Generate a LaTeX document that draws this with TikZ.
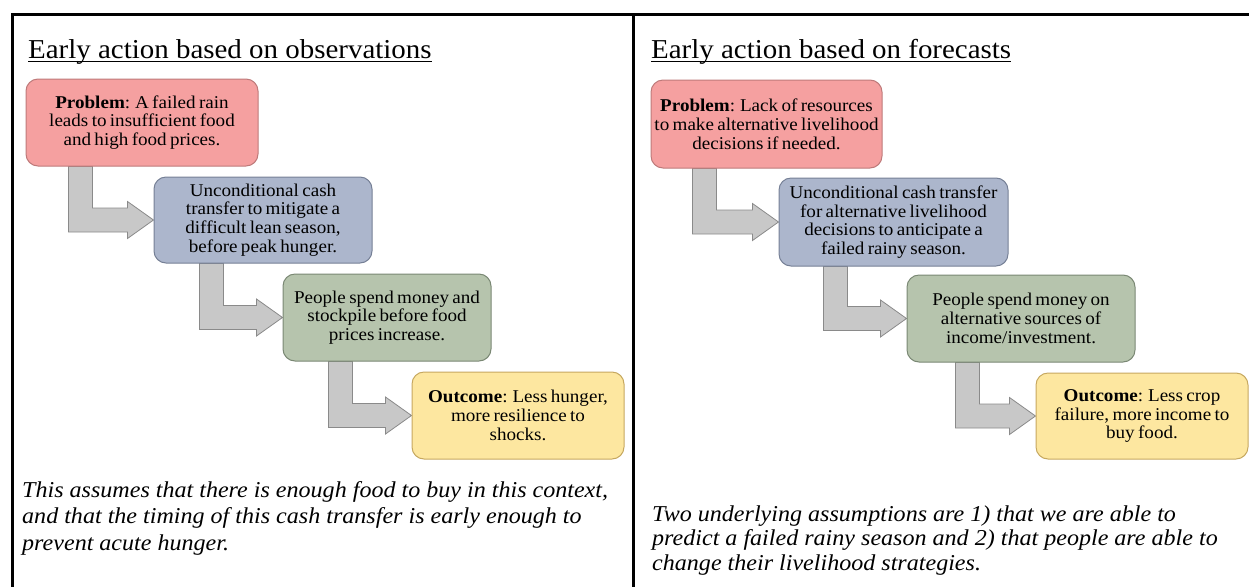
\documentclass[tikz,border=0pt]{standalone}
\usepackage{fontspec}
\setmainfont{Liberation Serif}[FakeStretch=1.06]
\newfontfamily\boxfont{Liberation Serif}[FakeStretch=1.06, WordSpace=0.7]
\usetikzlibrary{calc}
\pgfdeclarelayer{bg}
\pgfsetlayers{bg,main}

\definecolor{probfill}{RGB}{245,160,160}
\definecolor{probline}{RGB}{190,122,122}
\definecolor{actfill}{RGB}{172,182,204}
\definecolor{actline}{RGB}{118,128,150}
\definecolor{spendfill}{RGB}{182,196,173}
\definecolor{spendline}{RGB}{122,136,116}
\definecolor{resfill}{RGB}{253,231,160}
\definecolor{resline}{RGB}{198,168,96}
\definecolor{arrfill}{RGB}{200,200,200}
\definecolor{arrline}{RGB}{138,138,138}

\tikzset{
  stepbox/.style={draw, line width=1pt, rounded corners=12pt, inner sep=0pt,
    align=center, text=black, font=\boxfont\fontsize{18}{18.8}\selectfont},
  problem/.style={stepbox, fill=probfill, draw=probline},
  action/.style={stepbox, fill=actfill, draw=actline},
  spend/.style={stepbox, fill=spendfill, draw=spendline},
  result/.style={stepbox, fill=resfill, draw=resline},
  bentarrow/.style={fill=arrfill, draw=arrline, line width=0.8pt, line join=miter},
  heading/.style={anchor=base west, inner sep=0pt, font=\fontsize{27.3}{32}\selectfont},
  noteline/.style={anchor=base west, inner sep=0pt, font=\fontsize{22.7}{26}\selectfont\itshape},
  frame/.style={line width=3pt, black},
}

% bent block arrow: down from the source box, then right into the target box
% #1 source node, #2 target node, #3 offset of the stem from the source's left edge
\newcommand\bentlink[3]{%
  \draw[bentarrow] let \p1=([xshift=#3]#1.south west), \p2=(#2.west) in
    (\x1,\y1) -- (\x1,\y2-12pt) -- (\x2-26pt,\y2-12pt) -- (\x2-26pt,\y2-18.5pt)
    -- (\x2,\y2) -- (\x2-26pt,\y2+18.5pt) -- (\x2-26pt,\y2+12pt)
    -- (\x1+24pt,\y2+12pt) -- (\x1+24pt,\y1) -- cycle;}

\begin{document}
\begin{tikzpicture}[x=1pt, y=-1pt]
  \useasboundingbox (0,0) rectangle (1249,587);

  % outer frame and column divider
  \draw[frame] (11,14.5) -- (1249,14.5);
  \draw[frame] (12.5,13) -- (12.5,587);
  \draw[frame] (633.5,13) -- (633.5,587);

  % ---------- left column ----------
  \node[heading] (lhead) at (28,58) {Early action based on observations};
  \draw[line width=1.3pt] ([yshift=-3.8pt]lhead.base west) -- ([yshift=-3.8pt]lhead.base east);

  \node[problem, minimum width=232pt, minimum height=87pt] (lp) at (142,122.5)
    {\textbf{Problem}: A failed rain\\leads to insufficient food\\and high food prices.};
  \node[action, minimum width=218pt, minimum height=86pt] (la) at (263,220)
    {Unconditional cash\\transfer to mitigate a\\difficult lean season,\\before peak hunger.};
  \node[spend, minimum width=208pt, minimum height=87pt] (ls) at (387,317.5)
    {People spend money and\\stockpile before food\\prices increase.};
  \node[result, minimum width=212pt, minimum height=87pt] (lo) at (518,415.5)
    {\textbf{Outcome}: Less hunger,\\more resilience to\\shocks.};

  \node[noteline] (ln1) at (22,497) {This assumes that there is enough food to buy in this context,};
  \node[noteline] (ln2) at (22,523.5) {and that the timing of this cash transfer is early enough to};
  \node[noteline] (ln3) at (22,550) {prevent acute hunger.};

  % ---------- right column ----------
  \node[heading] (rhead) at (651,58) {Early action based on forecasts};
  \draw[line width=1.3pt] ([yshift=-3.8pt]rhead.base west) -- ([yshift=-3.8pt]rhead.base east);

  \node[problem, minimum width=231pt, minimum height=88pt] (rp) at (766.5,124)
    {\textbf{Problem}: Lack of resources\\to make alternative livelihood\\decisions if needed.};
  \node[action, minimum width=229pt, minimum height=88pt] (ra) at (893.5,222)
    {Unconditional cash transfer\\for alternative livelihood\\decisions to anticipate a\\failed rainy season.};
  \node[spend, minimum width=228pt, minimum height=87pt] (rs) at (1021,318.5)
    {People spend money on\\alternative sources of\\income/investment.};
  \node[result, minimum width=212pt, minimum height=86pt] (ro) at (1142,416)
    {\textbf{Outcome}: Less crop\\failure, more income to\\buy food.};

  \node[noteline] (rn1) at (652,521) {Two underlying assumptions are 1) that we are able to};
  \node[noteline] (rn2) at (652,545.5) {predict a failed rainy season and 2) that people are able to};
  \node[noteline] (rn3) at (652,570) {change their livelihood strategies.};

  % ---------- connectors ----------
  \begin{pgfonlayer}{bg}
    \bentlink{lp}{la}{43pt}
    \bentlink{la}{ls}{46pt}
    \bentlink{ls}{lo}{46pt}
    \bentlink{rp}{ra}{42pt}
    \bentlink{ra}{rs}{45pt}
    \bentlink{rs}{ro}{49pt}
  \end{pgfonlayer}
\end{tikzpicture}
\end{document}
